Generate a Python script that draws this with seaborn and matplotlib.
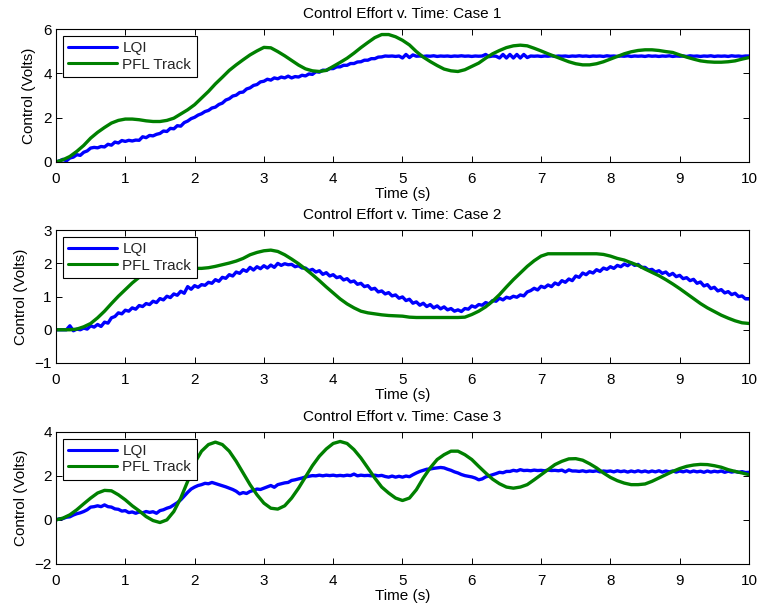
import numpy as np
import pandas as pd
import matplotlib
matplotlib.use("Agg")
import matplotlib.pyplot as plt
import seaborn as sns

# ---------------- data ----------------
titles = ["Control Effort v. Time: Case 1",
          "Control Effort v. Time: Case 2",
          "Control Effort v. Time: Case 3"]
series_names = ["LQI", "PFL Track"]
xticks = [0, 1, 2, 3, 4, 5, 6, 7, 8, 9, 10]
yticks_1 = [0, 2, 4, 6]
yticks_2 = [-1, 0, 1, 2, 3]
yticks_3 = [-2, 0, 2, 4]

# LQI sampled every 0.05 s (0 .. 10 s)
lqi_1 = [
    0.00, 0.05, 0.12, 0.05, 0.18, 0.22, 0.33, 0.30, 0.44, 0.50, 0.63, 0.66, 0.64, 0.70, 0.68, 0.80, 0.76, 0.90, 0.86, 0.97,
    0.93, 0.98, 0.95, 0.99, 0.98, 1.14, 1.10, 1.20, 1.18, 1.25, 1.29, 1.40, 1.38, 1.52, 1.50, 1.64, 1.62, 1.78, 1.85, 1.96,
    2.02, 2.12, 2.18, 2.28, 2.33, 2.44, 2.48, 2.60, 2.66, 2.80, 2.86, 2.98, 3.02, 3.14, 3.16, 3.30, 3.35, 3.46, 3.50, 3.62,
    3.65, 3.74, 3.70, 3.80, 3.76, 3.84, 3.80, 3.88, 3.80, 3.86, 3.84, 3.92, 3.89, 3.98, 3.96, 4.08, 4.06, 4.15, 4.14, 4.22,
    4.22, 4.30, 4.30, 4.37, 4.37, 4.45, 4.45, 4.52, 4.53, 4.60, 4.60, 4.67, 4.67, 4.74, 4.75, 4.79, 4.78, 4.79, 4.77, 4.79,
    4.70, 4.86, 4.72, 4.84, 4.78, 4.79, 4.77, 4.79, 4.78, 4.80, 4.77, 4.79, 4.78, 4.79, 4.77, 4.79, 4.78, 4.80, 4.78, 4.79,
    4.77, 4.79, 4.78, 4.79, 4.86, 4.76, 4.79, 4.78, 4.70, 4.86, 4.70, 4.86, 4.70, 4.86, 4.70, 4.86, 4.72, 4.79, 4.78, 4.79,
    4.77, 4.79, 4.78, 4.80, 4.77, 4.79, 4.78, 4.79, 4.77, 4.79, 4.78, 4.80, 4.78, 4.79, 4.77, 4.79, 4.78, 4.79, 4.77, 4.80,
    4.78, 4.79, 4.77, 4.79, 4.78, 4.80, 4.77, 4.79, 4.78, 4.79, 4.77, 4.80, 4.78, 4.79, 4.77, 4.79, 4.78, 4.80, 4.77, 4.79,
    4.78, 4.79, 4.77, 4.80, 4.78, 4.79, 4.77, 4.79, 4.78, 4.80, 4.77, 4.79, 4.78, 4.79, 4.77, 4.80, 4.78, 4.79, 4.77, 4.79,
    4.79]
lqi_2 = [
    0.00, 0.00, 0.00, 0.00, 0.12, -0.03, 0.02, 0.00, 0.05, 0.02, 0.12, 0.08, 0.16, 0.10, 0.23, 0.20, 0.36, 0.40, 0.51, 0.48,
    0.59, 0.56, 0.66, 0.62, 0.73, 0.70, 0.79, 0.76, 0.86, 0.82, 0.94, 0.90, 1.01, 0.97, 1.08, 1.04, 1.16, 1.10, 1.30, 1.22,
    1.33, 1.28, 1.36, 1.34, 1.43, 1.40, 1.51, 1.46, 1.58, 1.55, 1.66, 1.62, 1.74, 1.70, 1.81, 1.76, 1.88, 1.80, 1.90, 1.84,
    1.93, 1.86, 1.95, 1.88, 2.00, 1.94, 1.99, 1.96, 1.97, 1.90, 1.93, 1.86, 1.86, 1.78, 1.82, 1.74, 1.78, 1.67, 1.72, 1.62,
    1.66, 1.57, 1.60, 1.50, 1.54, 1.44, 1.47, 1.37, 1.40, 1.30, 1.33, 1.22, 1.25, 1.14, 1.17, 1.08, 1.12, 1.02, 1.05, 0.95,
    0.99, 0.88, 0.92, 0.80, 0.84, 0.74, 0.80, 0.70, 0.76, 0.66, 0.72, 0.63, 0.69, 0.60, 0.64, 0.56, 0.60, 0.55, 0.64, 0.62,
    0.72, 0.68, 0.76, 0.74, 0.82, 0.78, 0.88, 0.86, 0.95, 0.90, 0.98, 0.95, 1.01, 0.98, 1.05, 1.02, 1.14, 1.18, 1.25, 1.20,
    1.31, 1.27, 1.35, 1.30, 1.41, 1.36, 1.48, 1.43, 1.53, 1.48, 1.62, 1.58, 1.71, 1.66, 1.75, 1.71, 1.81, 1.76, 1.86, 1.82,
    1.90, 1.85, 1.94, 1.90, 1.98, 1.93, 2.01, 1.94, 1.97, 1.88, 1.88, 1.80, 1.82, 1.74, 1.78, 1.70, 1.74, 1.64, 1.70, 1.60,
    1.64, 1.54, 1.57, 1.48, 1.52, 1.40, 1.44, 1.32, 1.36, 1.24, 1.28, 1.17, 1.21, 1.11, 1.15, 1.06, 1.10, 1.00, 1.02, 0.93,
    0.93]
lqi_3 = [
    0.00, 0.05, 0.06, 0.12, 0.14, 0.22, 0.28, 0.32, 0.38, 0.46, 0.58, 0.60, 0.64, 0.60, 0.68, 0.60, 0.58, 0.50, 0.48, 0.40,
    0.42, 0.33, 0.36, 0.30, 0.36, 0.32, 0.38, 0.34, 0.37, 0.30, 0.42, 0.46, 0.53, 0.58, 0.68, 0.78, 0.91, 1.08, 1.25, 1.40,
    1.49, 1.56, 1.60, 1.66, 1.64, 1.70, 1.65, 1.60, 1.55, 1.50, 1.44, 1.38, 1.30, 1.18, 1.24, 1.20, 1.29, 1.34, 1.40, 1.38,
    1.44, 1.50, 1.56, 1.48, 1.60, 1.64, 1.68, 1.70, 1.79, 1.82, 1.86, 1.90, 1.95, 1.98, 2.01, 2.00, 2.03, 2.00, 2.03, 2.01,
    2.03, 2.00, 2.02, 2.00, 2.03, 2.01, 2.08, 2.00, 2.03, 2.01, 2.02, 2.00, 2.03, 2.00, 2.02, 1.97, 1.94, 1.99, 1.94, 1.98,
    1.94, 1.99, 1.96, 2.05, 2.13, 2.20, 2.25, 2.30, 2.31, 2.34, 2.36, 2.38, 2.36, 2.30, 2.25, 2.18, 2.13, 2.06, 2.01, 1.98,
    1.95, 1.90, 1.82, 1.86, 1.95, 2.00, 2.05, 2.10, 2.16, 2.14, 2.20, 2.20, 2.25, 2.22, 2.28, 2.24, 2.25, 2.23, 2.26, 2.24,
    2.25, 2.23, 2.26, 2.24, 2.25, 2.23, 2.26, 2.18, 2.27, 2.22, 2.22, 2.20, 2.23, 2.19, 2.22, 2.20, 2.23, 2.18, 2.22, 2.20,
    2.22, 2.18, 2.23, 2.19, 2.22, 2.17, 2.22, 2.18, 2.23, 2.18, 2.22, 2.17, 2.22, 2.18, 2.23, 2.17, 2.22, 2.18, 2.22, 2.17,
    2.22, 2.18, 2.23, 2.17, 2.22, 2.18, 2.21, 2.16, 2.22, 2.17, 2.21, 2.18, 2.22, 2.16, 2.21, 2.17, 2.20, 2.16, 2.19, 2.15,
    2.16]

# PFL Track sampled every 0.1 s (0 .. 10 s)
pfl_1 = [
    0.00, 0.10, 0.25, 0.48, 0.75, 1.08, 1.34, 1.56, 1.76, 1.88,
    1.94, 1.94, 1.91, 1.86, 1.83, 1.83, 1.88, 1.98, 2.17, 2.36,
    2.59, 2.89, 3.19, 3.53, 3.83, 4.14, 4.39, 4.62, 4.84, 5.02,
    5.18, 5.16, 4.99, 4.80, 4.59, 4.38, 4.21, 4.12, 4.09, 4.14,
    4.32, 4.50, 4.69, 4.92, 5.17, 5.40, 5.62, 5.76, 5.76, 5.66,
    5.50, 5.29, 4.99, 4.74, 4.54, 4.36, 4.20, 4.12, 4.09, 4.17,
    4.32, 4.47, 4.69, 4.89, 5.04, 5.17, 5.25, 5.28, 5.25, 5.14,
    5.02, 4.89, 4.77, 4.65, 4.53, 4.44, 4.39, 4.39, 4.44, 4.53,
    4.65, 4.77, 4.89, 4.98, 5.04, 5.07, 5.07, 5.04, 4.99, 4.95,
    4.84, 4.74, 4.65, 4.57, 4.53, 4.51, 4.51, 4.53, 4.57, 4.65,
    4.72]
pfl_2 = [
    0.00, 0.00, 0.00, 0.02, 0.09, 0.19, 0.36, 0.56, 0.79, 1.01,
    1.21, 1.41, 1.58, 1.70, 1.78, 1.82, 1.84, 1.85, 1.85, 1.85,
    1.85, 1.85, 1.87, 1.91, 1.96, 2.01, 2.07, 2.15, 2.26, 2.33,
    2.38, 2.40, 2.36, 2.26, 2.13, 1.99, 1.83, 1.66, 1.48, 1.29,
    1.11, 0.93, 0.78, 0.66, 0.56, 0.51, 0.48, 0.45, 0.43, 0.42,
    0.41, 0.38, 0.37, 0.37, 0.37, 0.37, 0.37, 0.37, 0.37, 0.38,
    0.46, 0.56, 0.69, 0.86, 1.06, 1.29, 1.51, 1.71, 1.91, 2.08,
    2.22, 2.29, 2.29, 2.29, 2.29, 2.29, 2.29, 2.29, 2.29, 2.27,
    2.22, 2.15, 2.10, 2.02, 1.94, 1.83, 1.73, 1.63, 1.51, 1.38,
    1.24, 1.09, 0.94, 0.79, 0.66, 0.55, 0.44, 0.35, 0.27, 0.21,
    0.19]
pfl_3 = [
    0.00, 0.08, 0.23, 0.46, 0.73, 0.99, 1.22, 1.34, 1.32, 1.14,
    0.91, 0.64, 0.41, 0.15, -0.03, -0.12, 0.00, 0.38, 0.99, 1.75,
    2.58, 3.12, 3.42, 3.53, 3.42, 3.12, 2.66, 2.13, 1.60, 1.14,
    0.76, 0.53, 0.49, 0.64, 0.99, 1.44, 1.95, 2.46, 2.89, 3.22,
    3.47, 3.56, 3.47, 3.19, 2.81, 2.36, 1.90, 1.49, 1.22, 0.99,
    0.88, 0.99, 1.37, 1.90, 2.36, 2.74, 2.96, 3.12, 3.12, 2.96,
    2.74, 2.43, 2.13, 1.85, 1.64, 1.49, 1.44, 1.49, 1.60, 1.82,
    2.05, 2.28, 2.51, 2.66, 2.77, 2.78, 2.71, 2.55, 2.36, 2.13,
    1.93, 1.78, 1.67, 1.60, 1.60, 1.63, 1.75, 1.90, 2.05, 2.20,
    2.33, 2.43, 2.49, 2.52, 2.51, 2.46, 2.39, 2.28, 2.20, 2.13,
    2.05]

# ---------------- style ----------------
sns.set_theme(style="ticks")
plt.rcParams['font.family'] = ['Liberation Sans', 'DejaVu Sans']
plt.rcParams['axes.unicode_minus'] = True

BLUE = (0.0, 0.0, 1.0)
GREEN = (0.0, 0.5, 0.0)
FS = 11

fig = plt.figure(figsize=(7.59, 6.09), dpi=100)
positions = [[0.0738, 0.734, 0.913, 0.218],
             [0.0738, 0.404, 0.913, 0.218],
             [0.0738, 0.074, 0.913, 0.217]]
cases = [(lqi_1, pfl_1, yticks_1), (lqi_2, pfl_2, yticks_2), (lqi_3, pfl_3, yticks_3)]

for pos, title, (lqi, pfl, yt) in zip(positions, titles, cases):
    ax = fig.add_axes(pos)
    df_l = pd.DataFrame({"t": np.linspace(0, 10, len(lqi)), "u": lqi})
    df_p = pd.DataFrame({"t": np.linspace(0, 10, len(pfl)), "u": pfl})
    sns.lineplot(data=df_l, x="t", y="u", ax=ax, color=BLUE, lw=2.4,
                 label=series_names[0], estimator=None, sort=False)
    sns.lineplot(data=df_p, x="t", y="u", ax=ax, color=GREEN, lw=2.4,
                 label=series_names[1], estimator=None, sort=False)
    ax.set_xlim(0, 10)
    ax.set_ylim(yt[0], yt[-1])
    ax.set_xticks(xticks)
    ax.set_yticks(yt)
    ax.tick_params(direction='in', top=True, right=True, length=4, width=0.7,
                   labelsize=FS, colors='black')
    ax.tick_params(axis='x', pad=7)
    ax.tick_params(axis='y', pad=3)
    for sp in ax.spines.values():
        sp.set_visible(True)
        sp.set_color('black')
        sp.set_linewidth(0.8)
    ax.set_title(title, fontsize=FS, pad=8, color='black')
    ax.set_xlabel("Time (s)", fontsize=FS, labelpad=1, color='black')
    ax.set_ylabel("Control (Volts)", fontsize=FS, labelpad=5, color='black')
    leg = ax.legend(loc='upper left', fontsize=FS, frameon=True, fancybox=False,
                    edgecolor='black', framealpha=1, borderaxespad=0.45,
                    borderpad=0.35, labelspacing=0.15, handlelength=3.2,
                    handletextpad=0.35)
    leg.get_frame().set_linewidth(0.8)
    for h in leg.get_lines():
        h.set_linewidth(2.2)

fig.savefig("out.png", dpi=100)
